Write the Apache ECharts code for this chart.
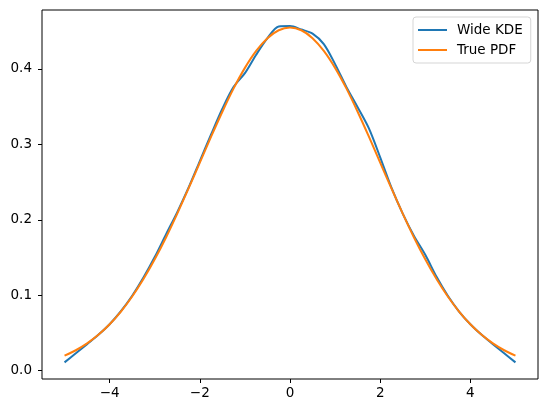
<!DOCTYPE html>
<html style="height: 100%">
<head>
    <meta charset="utf-8">
</head>
<body style="height: 100%; margin: 0">
<div id="container" style="width: 547px; height: 413px;"></div>

<script type="text/javascript" src="https://cdn.jsdelivr.net/npm/echarts@6/dist/echarts.min.js"></script>
<script type="text/javascript">
    // values, x step 0.25 from -5 to 5
    var xs = [-5, -4.75, -4.5, -4.25, -4, -3.75, -3.5, -3.25, -3, -2.75, -2.5, -2.25, -2, -1.75, -1.5, -1.25, -1, -0.75, -0.5, -0.25,
              0, 0.25, 0.5, 0.75, 1, 1.25, 1.5, 1.75, 2, 2.25, 2.5, 2.75, 3, 3.25, 3.5, 3.75, 4, 4.25, 4.5, 4.75, 5];
    var wideKde = [0.011, 0.023, 0.0352, 0.0475, 0.0615, 0.0788, 0.0993, 0.1234, 0.1506, 0.1806, 0.2102, 0.2425, 0.2778, 0.3131, 0.3472, 0.3761, 0.3943, 0.4188, 0.4407, 0.4562,
                   0.4567, 0.4522, 0.4467, 0.4328, 0.4063, 0.3761, 0.3492, 0.3211, 0.2828, 0.2425, 0.2082, 0.1786, 0.1536, 0.1244, 0.0993, 0.0784, 0.0615, 0.0475, 0.0352, 0.0231, 0.011];
    var truePdf = [0.0200, 0.0271, 0.0362, 0.0475, 0.0615, 0.0784, 0.0983, 0.1214, 0.1476, 0.1766, 0.2082, 0.2415, 0.2758, 0.3101, 0.3432, 0.3741, 0.4013, 0.4238, 0.4407, 0.4512,
                   0.4547, 0.4512, 0.4407, 0.4238, 0.4013, 0.3741, 0.3432, 0.3101, 0.2758, 0.2415, 0.2082, 0.1766, 0.1476, 0.1214, 0.0983, 0.0784, 0.0615, 0.0475, 0.0362, 0.0271, 0.0200];
    var xTicks = [-4, -2, 0, 2, 4];
    var yTicks = [0, 0.1, 0.2, 0.3, 0.4];

    function pairs(ys) {
        return xs.map(function (x, i) { return [x, ys[i]]; });
    }
    function fmt(v) {
        return String(v).replace('-', '\u2212');
    }

    var dom = document.getElementById("container");
    var myChart = echarts.init(dom);
    var font = 'DejaVu Sans';
    // plain line handle for the legend (tiny corner dots keep the box size)
    var lineIcon = 'path://M0,0L0.01,0L0.01,0.01Z M0,6L29,6L29,8L0,8Z M0,14L0.01,14L0.01,13.99Z';

    var option = {
        animation: false,
        backgroundColor: '#fff',
        grid: {
            left: 42, right: 9, top: 10, bottom: 34,
            show: true, borderColor: '#000', borderWidth: 1
        },
        legend: {
            orient: 'vertical',
            left: 413, top: 17,
            padding: [6, 8, 6, 5],
            itemGap: 6,
            itemWidth: 29,
            itemHeight: 14,
            icon: lineIcon,
            borderColor: '#d5d5d5',
            borderWidth: 1,
            borderRadius: 3,
            backgroundColor: 'rgba(255,255,255,0.8)',
            textStyle: { fontFamily: font, fontSize: 13.5, color: '#000', padding: [0, 0, 0, 5] },
            data: ['Wide KDE', 'True PDF']
        },
        xAxis: {
            type: 'value', min: -5.5, max: 5.5,
            axisLine: { show: false, onZero: false },
            splitLine: { show: false },
            axisTick: { show: true, length: 4, lineStyle: { color: '#000' }, customValues: xTicks },
            axisLabel: { margin: 7, color: '#000', fontFamily: font, fontSize: 13.5, customValues: xTicks, formatter: fmt }
        },
        yAxis: {
            type: 'value', min: -0.011, max: 0.478,
            axisLine: { show: false, onZero: false },
            splitLine: { show: false },
            axisTick: { show: true, length: 4, lineStyle: { color: '#000' }, customValues: yTicks },
            axisLabel: { margin: 10, color: '#000', fontFamily: font, fontSize: 13.5, customValues: yTicks,
                formatter: function (v) { return v.toFixed(1); } }
        },
        series: [
            { name: 'Wide KDE', type: 'line', data: pairs(wideKde), smooth: 0.3, symbol: 'none',
              lineStyle: { color: '#1f77b4', width: 2 }, itemStyle: { color: '#1f77b4' } },
            { name: 'True PDF', type: 'line', data: pairs(truePdf), smooth: 0.3, symbol: 'none',
              lineStyle: { color: '#ff7f0e', width: 2 }, itemStyle: { color: '#ff7f0e' } }
        ]
    };

    myChart.setOption(option);
</script>
</body>
</html>
